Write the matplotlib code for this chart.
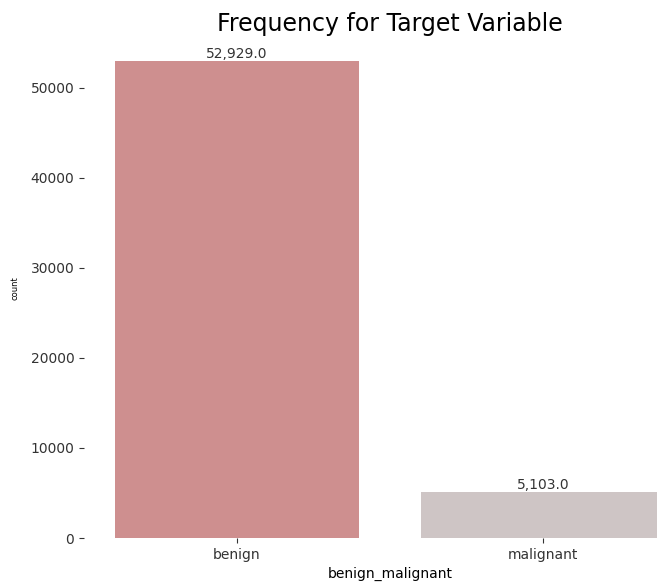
import numpy as np
import matplotlib.pyplot as plt

# class counts for the target column
classes = ['benign', 'malignant']
counts = [52929, 5103]
colors = ['#ce8f8f', '#cec5c5']

fig = plt.figure(figsize=(6.57, 5.88), dpi=100)
ax = fig.add_axes([0.128, 0.085, 0.931, 0.851])

x = np.arange(len(classes))
bars = ax.bar(x, counts, width=0.8, color=colors)
ax.set_xlim(-0.5, 1.5)
ax.set_ylim(0, max(counts) * 1.05)
ax.set_xticks(x)
ax.set_xticklabels(classes)
ax.set_yticks([0, 10000, 20000, 30000, 40000, 50000])

# value on top of each bar
for b, c in zip(bars, counts):
    ax.annotate('{:,.1f}'.format(c), (b.get_x() + b.get_width() / 2, c),
                ha='center', va='bottom', fontsize=10, color='#333333')

for s in ax.spines.values():
    s.set_visible(False)
ax.tick_params(colors='#333333', labelsize=10)

ax.set_xlabel('benign_malignant', fontsize=10)
ax.set_ylabel('count', fontsize=6, labelpad=8)
ax.set_title('Frequency for Target Variable', fontsize=17, pad=5)

fig.savefig('out.png', dpi=100)
